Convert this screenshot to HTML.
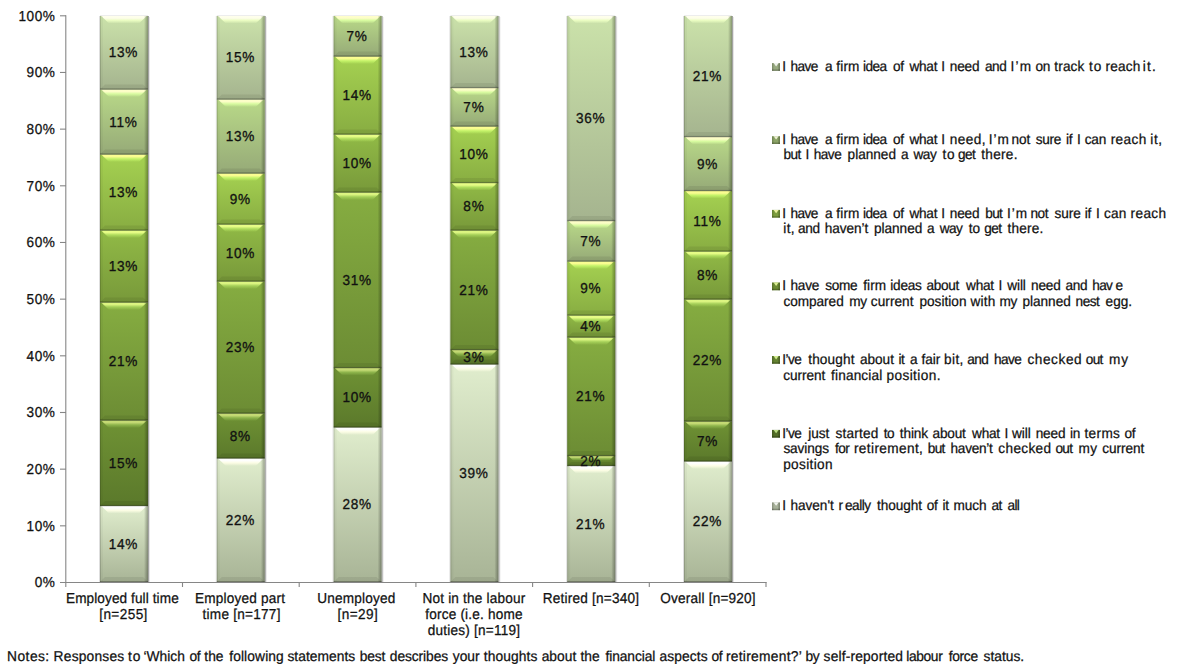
<!DOCTYPE html>
<html lang="en"><head><meta charset="utf-8"><title>Retirement planning by labour force status</title>
<style>html,body{margin:0;padding:0;background:#fff}body{width:1180px;height:669px;overflow:hidden}svg{display:block}text{font-family:"Liberation Sans",Arial,sans-serif;font-size:13.6px;letter-spacing:0.2px;fill:#111;text-rendering:geometricPrecision;stroke:#111;stroke-width:0.25px}.b{stroke-width:0.3px;letter-spacing:0.7px}.y{letter-spacing:0.5px}</style></head><body>
<svg width="1180" height="669" viewBox="0 0 1180 669">
<defs>
<linearGradient id="g0" x1="0" y1="0" x2="0" y2="1"><stop offset="0" stop-color="#e0edcd"/><stop offset="1" stop-color="#a8b496"/></linearGradient>
<linearGradient id="g1" x1="0" y1="0" x2="0" y2="1"><stop offset="0" stop-color="#6f9234"/><stop offset="1" stop-color="#5b792b"/></linearGradient>
<linearGradient id="g2" x1="0" y1="0" x2="0" y2="1"><stop offset="0" stop-color="#86ad41"/><stop offset="1" stop-color="#6c8c34"/></linearGradient>
<linearGradient id="g3" x1="0" y1="0" x2="0" y2="1"><stop offset="0" stop-color="#91ba46"/><stop offset="1" stop-color="#78993a"/></linearGradient>
<linearGradient id="g4" x1="0" y1="0" x2="0" y2="1"><stop offset="0" stop-color="#a5d151"/><stop offset="1" stop-color="#88ad42"/></linearGradient>
<linearGradient id="g5" x1="0" y1="0" x2="0" y2="1"><stop offset="0" stop-color="#b9d988"/><stop offset="1" stop-color="#96aa78"/></linearGradient>
<linearGradient id="g6" x1="0" y1="0" x2="0" y2="1"><stop offset="0" stop-color="#cbe2aa"/><stop offset="1" stop-color="#a5b48f"/></linearGradient>
<linearGradient id="h0" x1="0" y1="0" x2="0" y2="1"><stop offset="0" stop-color="#ffffff" stop-opacity="1"/><stop offset="0.3" stop-color="#ffffff" stop-opacity="0.95"/><stop offset="0.6" stop-color="#ffffe7" stop-opacity="0.9"/><stop offset="1" stop-color="#ffffe7" stop-opacity="0"/></linearGradient>
<linearGradient id="h1" x1="0" y1="0" x2="0" y2="1"><stop offset="0" stop-color="#c7dc76" stop-opacity="1"/><stop offset="0.3" stop-color="#c7dc76" stop-opacity="0.95"/><stop offset="0.6" stop-color="#91b84e" stop-opacity="0.9"/><stop offset="1" stop-color="#91b84e" stop-opacity="0"/></linearGradient>
<linearGradient id="h2" x1="0" y1="0" x2="0" y2="1"><stop offset="0" stop-color="#def783" stop-opacity="1"/><stop offset="0.3" stop-color="#def783" stop-opacity="0.95"/><stop offset="0.6" stop-color="#a8d35b" stop-opacity="0.9"/><stop offset="1" stop-color="#a8d35b" stop-opacity="0"/></linearGradient>
<linearGradient id="h3" x1="0" y1="0" x2="0" y2="1"><stop offset="0" stop-color="#e9ff88" stop-opacity="1"/><stop offset="0.3" stop-color="#e9ff88" stop-opacity="0.95"/><stop offset="0.6" stop-color="#b3e060" stop-opacity="0.9"/><stop offset="1" stop-color="#b3e060" stop-opacity="0"/></linearGradient>
<linearGradient id="h4" x1="0" y1="0" x2="0" y2="1"><stop offset="0" stop-color="#fdff93" stop-opacity="1"/><stop offset="0.3" stop-color="#fdff93" stop-opacity="0.95"/><stop offset="0.6" stop-color="#c7f76b" stop-opacity="0.9"/><stop offset="1" stop-color="#c7f76b" stop-opacity="0"/></linearGradient>
<linearGradient id="h5" x1="0" y1="0" x2="0" y2="1"><stop offset="0" stop-color="#ffffca" stop-opacity="1"/><stop offset="0.3" stop-color="#ffffca" stop-opacity="0.95"/><stop offset="0.6" stop-color="#dbffa2" stop-opacity="0.9"/><stop offset="1" stop-color="#dbffa2" stop-opacity="0"/></linearGradient>
<linearGradient id="h6" x1="0" y1="0" x2="0" y2="1"><stop offset="0" stop-color="#ffffec" stop-opacity="1"/><stop offset="0.3" stop-color="#ffffec" stop-opacity="0.95"/><stop offset="0.6" stop-color="#edffc4" stop-opacity="0.9"/><stop offset="1" stop-color="#edffc4" stop-opacity="0"/></linearGradient>
<linearGradient id="rs" x1="0" y1="0" x2="1" y2="0"><stop offset="0" stop-color="#000" stop-opacity="0"/><stop offset="1" stop-color="#000" stop-opacity="0.33"/></linearGradient>
</defs>
<rect width="1180" height="669" fill="#fff"/>
<rect x="99.0" y="16" width="1" height="566" fill="#000" opacity="0.13"/>
<rect x="148.0" y="16" width="1" height="566" fill="#000" opacity="0.36"/>
<rect x="149.0" y="17" width="1" height="565" fill="#000" opacity="0.10"/>
<rect x="100.0" y="15" width="48" height="1" fill="#000" opacity="0.07"/>
<rect x="100.0" y="505.9" width="48" height="76.10000000000002" fill="url(#g0)"/>
<polygon points="101.2,505.9 146.8,505.9 138.9,513.4 109.1,513.4" fill="url(#h0)"/>
<polygon points="100.0,582 148.0,582 143.0,577 105.0,577" fill="#000" opacity="0.07"/>
<rect x="144.0" y="505.9" width="4" height="76.10000000000002" fill="url(#rs)"/>
<rect x="100.0" y="505.9" width="1" height="76.10000000000002" fill="#000" opacity="0.17"/>
<rect x="101.0" y="505.9" width="2" height="76.10000000000002" fill="#000" opacity="0.03"/>
<rect x="100.0" y="581" width="48" height="1.5" fill="#000" opacity="0.27"/>
<rect x="100.0" y="420.4" width="48" height="85.5" fill="url(#g1)"/>
<polygon points="101.2,420.4 146.8,420.4 138.9,427.9 109.1,427.9" fill="url(#h1)"/>
<polygon points="100.0,505.9 148.0,505.9 143.0,500.9 105.0,500.9" fill="#000" opacity="0.07"/>
<rect x="144.0" y="420.4" width="4" height="85.5" fill="url(#rs)"/>
<rect x="100.0" y="420.4" width="1" height="85.5" fill="#000" opacity="0.17"/>
<rect x="101.0" y="420.4" width="2" height="85.5" fill="#000" opacity="0.03"/>
<rect x="100.0" y="504.9" width="48" height="1.5" fill="#000" opacity="0.27"/>
<rect x="100.0" y="302.4" width="48" height="118.0" fill="url(#g2)"/>
<polygon points="101.2,302.4 146.8,302.4 138.9,309.9 109.1,309.9" fill="url(#h2)"/>
<polygon points="100.0,420.4 148.0,420.4 143.0,415.4 105.0,415.4" fill="#000" opacity="0.07"/>
<rect x="144.0" y="302.4" width="4" height="118.0" fill="url(#rs)"/>
<rect x="100.0" y="302.4" width="1" height="118.0" fill="#000" opacity="0.17"/>
<rect x="101.0" y="302.4" width="2" height="118.0" fill="#000" opacity="0.03"/>
<rect x="100.0" y="419.4" width="48" height="1.5" fill="#000" opacity="0.27"/>
<rect x="100.0" y="230.4" width="48" height="71.99999999999997" fill="url(#g3)"/>
<polygon points="101.2,230.4 146.8,230.4 138.9,237.9 109.1,237.9" fill="url(#h3)"/>
<polygon points="100.0,302.4 148.0,302.4 143.0,297.4 105.0,297.4" fill="#000" opacity="0.07"/>
<rect x="144.0" y="230.4" width="4" height="71.99999999999997" fill="url(#rs)"/>
<rect x="100.0" y="230.4" width="1" height="71.99999999999997" fill="#000" opacity="0.17"/>
<rect x="101.0" y="230.4" width="2" height="71.99999999999997" fill="#000" opacity="0.03"/>
<rect x="100.0" y="301.4" width="48" height="1.5" fill="#000" opacity="0.27"/>
<rect x="100.0" y="154.4" width="48" height="76.0" fill="url(#g4)"/>
<polygon points="101.2,154.4 146.8,154.4 138.9,161.9 109.1,161.9" fill="url(#h4)"/>
<polygon points="100.0,230.4 148.0,230.4 143.0,225.4 105.0,225.4" fill="#000" opacity="0.07"/>
<rect x="144.0" y="154.4" width="4" height="76.0" fill="url(#rs)"/>
<rect x="100.0" y="154.4" width="1" height="76.0" fill="#000" opacity="0.17"/>
<rect x="101.0" y="154.4" width="2" height="76.0" fill="#000" opacity="0.03"/>
<rect x="100.0" y="229.4" width="48" height="1.5" fill="#000" opacity="0.27"/>
<rect x="100.0" y="89.4" width="48" height="65.0" fill="url(#g5)"/>
<polygon points="101.2,89.4 146.8,89.4 138.9,96.9 109.1,96.9" fill="url(#h5)"/>
<polygon points="100.0,154.4 148.0,154.4 143.0,149.4 105.0,149.4" fill="#000" opacity="0.07"/>
<rect x="144.0" y="89.4" width="4" height="65.0" fill="url(#rs)"/>
<rect x="100.0" y="89.4" width="1" height="65.0" fill="#000" opacity="0.17"/>
<rect x="101.0" y="89.4" width="2" height="65.0" fill="#000" opacity="0.03"/>
<rect x="100.0" y="153.4" width="48" height="1.5" fill="#000" opacity="0.27"/>
<rect x="100.0" y="16" width="48" height="73.4" fill="url(#g6)"/>
<polygon points="101.2,16 146.8,16 138.9,23.5 109.1,23.5" fill="url(#h6)"/>
<polygon points="100.0,89.4 148.0,89.4 143.0,84.4 105.0,84.4" fill="#000" opacity="0.07"/>
<rect x="144.0" y="16" width="4" height="73.4" fill="url(#rs)"/>
<rect x="100.0" y="16" width="1" height="73.4" fill="#000" opacity="0.17"/>
<rect x="101.0" y="16" width="2" height="73.4" fill="#000" opacity="0.03"/>
<rect x="100.0" y="88.4" width="48" height="1.5" fill="#000" opacity="0.27"/>
<text transform="translate(123.5 548.6) scale(1 1.06)" text-anchor="middle" class="b">14%</text>
<text transform="translate(123.5 467.8) scale(1 1.06)" text-anchor="middle" class="b">15%</text>
<text transform="translate(123.5 366.0) scale(1 1.06)" text-anchor="middle" class="b">21%</text>
<text transform="translate(123.5 271.0) scale(1 1.06)" text-anchor="middle" class="b">13%</text>
<text transform="translate(123.5 197.0) scale(1 1.06)" text-anchor="middle" class="b">13%</text>
<text transform="translate(123.5 126.5) scale(1 1.06)" text-anchor="middle" class="b">11%</text>
<text transform="translate(123.5 57.3) scale(1 1.06)" text-anchor="middle" class="b">13%</text>
<rect x="215.8" y="16" width="1" height="566" fill="#000" opacity="0.13"/>
<rect x="264.8" y="16" width="1" height="566" fill="#000" opacity="0.36"/>
<rect x="265.8" y="17" width="1" height="565" fill="#000" opacity="0.10"/>
<rect x="216.8" y="15" width="48" height="1" fill="#000" opacity="0.07"/>
<rect x="216.8" y="458.4" width="48" height="123.60000000000002" fill="url(#g0)"/>
<polygon points="218.0,458.4 263.6,458.4 255.7,465.9 225.9,465.9" fill="url(#h0)"/>
<polygon points="216.8,582 264.8,582 259.8,577 221.8,577" fill="#000" opacity="0.07"/>
<rect x="260.8" y="458.4" width="4" height="123.60000000000002" fill="url(#rs)"/>
<rect x="216.8" y="458.4" width="1" height="123.60000000000002" fill="#000" opacity="0.17"/>
<rect x="217.8" y="458.4" width="2" height="123.60000000000002" fill="#000" opacity="0.03"/>
<rect x="216.8" y="581" width="48" height="1.5" fill="#000" opacity="0.27"/>
<rect x="216.8" y="413.4" width="48" height="45.0" fill="url(#g1)"/>
<polygon points="218.0,413.4 263.6,413.4 255.7,420.9 225.9,420.9" fill="url(#h1)"/>
<polygon points="216.8,458.4 264.8,458.4 259.8,453.4 221.8,453.4" fill="#000" opacity="0.07"/>
<rect x="260.8" y="413.4" width="4" height="45.0" fill="url(#rs)"/>
<rect x="216.8" y="413.4" width="1" height="45.0" fill="#000" opacity="0.17"/>
<rect x="217.8" y="413.4" width="2" height="45.0" fill="#000" opacity="0.03"/>
<rect x="216.8" y="457.4" width="48" height="1.5" fill="#000" opacity="0.27"/>
<rect x="216.8" y="281.4" width="48" height="132.0" fill="url(#g2)"/>
<polygon points="218.0,281.4 263.6,281.4 255.7,288.9 225.9,288.9" fill="url(#h2)"/>
<polygon points="216.8,413.4 264.8,413.4 259.8,408.4 221.8,408.4" fill="#000" opacity="0.07"/>
<rect x="260.8" y="281.4" width="4" height="132.0" fill="url(#rs)"/>
<rect x="216.8" y="281.4" width="1" height="132.0" fill="#000" opacity="0.17"/>
<rect x="217.8" y="281.4" width="2" height="132.0" fill="#000" opacity="0.03"/>
<rect x="216.8" y="412.4" width="48" height="1.5" fill="#000" opacity="0.27"/>
<rect x="216.8" y="224.4" width="48" height="56.99999999999997" fill="url(#g3)"/>
<polygon points="218.0,224.4 263.6,224.4 255.7,231.9 225.9,231.9" fill="url(#h3)"/>
<polygon points="216.8,281.4 264.8,281.4 259.8,276.4 221.8,276.4" fill="#000" opacity="0.07"/>
<rect x="260.8" y="224.4" width="4" height="56.99999999999997" fill="url(#rs)"/>
<rect x="216.8" y="224.4" width="1" height="56.99999999999997" fill="#000" opacity="0.17"/>
<rect x="217.8" y="224.4" width="2" height="56.99999999999997" fill="#000" opacity="0.03"/>
<rect x="216.8" y="280.4" width="48" height="1.5" fill="#000" opacity="0.27"/>
<rect x="216.8" y="173.4" width="48" height="51.0" fill="url(#g4)"/>
<polygon points="218.0,173.4 263.6,173.4 255.7,180.9 225.9,180.9" fill="url(#h4)"/>
<polygon points="216.8,224.4 264.8,224.4 259.8,219.4 221.8,219.4" fill="#000" opacity="0.07"/>
<rect x="260.8" y="173.4" width="4" height="51.0" fill="url(#rs)"/>
<rect x="216.8" y="173.4" width="1" height="51.0" fill="#000" opacity="0.17"/>
<rect x="217.8" y="173.4" width="2" height="51.0" fill="#000" opacity="0.03"/>
<rect x="216.8" y="223.4" width="48" height="1.5" fill="#000" opacity="0.27"/>
<rect x="216.8" y="99.4" width="48" height="74.0" fill="url(#g5)"/>
<polygon points="218.0,99.4 263.6,99.4 255.7,106.9 225.9,106.9" fill="url(#h5)"/>
<polygon points="216.8,173.4 264.8,173.4 259.8,168.4 221.8,168.4" fill="#000" opacity="0.07"/>
<rect x="260.8" y="99.4" width="4" height="74.0" fill="url(#rs)"/>
<rect x="216.8" y="99.4" width="1" height="74.0" fill="#000" opacity="0.17"/>
<rect x="217.8" y="99.4" width="2" height="74.0" fill="#000" opacity="0.03"/>
<rect x="216.8" y="172.4" width="48" height="1.5" fill="#000" opacity="0.27"/>
<rect x="216.8" y="16" width="48" height="83.4" fill="url(#g6)"/>
<polygon points="218.0,16 263.6,16 255.7,23.5 225.9,23.5" fill="url(#h6)"/>
<polygon points="216.8,99.4 264.8,99.4 259.8,94.4 221.8,94.4" fill="#000" opacity="0.07"/>
<rect x="260.8" y="16" width="4" height="83.4" fill="url(#rs)"/>
<rect x="216.8" y="16" width="1" height="83.4" fill="#000" opacity="0.17"/>
<rect x="217.8" y="16" width="2" height="83.4" fill="#000" opacity="0.03"/>
<rect x="216.8" y="98.4" width="48" height="1.5" fill="#000" opacity="0.27"/>
<text transform="translate(240.3 524.8) scale(1 1.06)" text-anchor="middle" class="b">22%</text>
<text transform="translate(240.3 440.5) scale(1 1.06)" text-anchor="middle" class="b">8%</text>
<text transform="translate(240.3 352.0) scale(1 1.06)" text-anchor="middle" class="b">23%</text>
<text transform="translate(240.3 257.5) scale(1 1.06)" text-anchor="middle" class="b">10%</text>
<text transform="translate(240.3 203.5) scale(1 1.06)" text-anchor="middle" class="b">9%</text>
<text transform="translate(240.3 141.0) scale(1 1.06)" text-anchor="middle" class="b">13%</text>
<text transform="translate(240.3 62.3) scale(1 1.06)" text-anchor="middle" class="b">15%</text>
<rect x="332.6" y="16" width="1" height="566" fill="#000" opacity="0.13"/>
<rect x="381.6" y="16" width="1" height="566" fill="#000" opacity="0.36"/>
<rect x="382.6" y="17" width="1" height="565" fill="#000" opacity="0.10"/>
<rect x="333.6" y="15" width="48" height="1" fill="#000" opacity="0.07"/>
<rect x="333.6" y="427.4" width="48" height="154.60000000000002" fill="url(#g0)"/>
<polygon points="334.8,427.4 380.40000000000003,427.4 372.5,434.9 342.7,434.9" fill="url(#h0)"/>
<polygon points="333.6,582 381.6,582 376.6,577 338.6,577" fill="#000" opacity="0.07"/>
<rect x="377.6" y="427.4" width="4" height="154.60000000000002" fill="url(#rs)"/>
<rect x="333.6" y="427.4" width="1" height="154.60000000000002" fill="#000" opacity="0.17"/>
<rect x="334.6" y="427.4" width="2" height="154.60000000000002" fill="#000" opacity="0.03"/>
<rect x="333.6" y="581" width="48" height="1.5" fill="#000" opacity="0.27"/>
<rect x="333.6" y="367.9" width="48" height="59.5" fill="url(#g1)"/>
<polygon points="334.8,367.9 380.40000000000003,367.9 372.5,375.4 342.7,375.4" fill="url(#h1)"/>
<polygon points="333.6,427.4 381.6,427.4 376.6,422.4 338.6,422.4" fill="#000" opacity="0.07"/>
<rect x="377.6" y="367.9" width="4" height="59.5" fill="url(#rs)"/>
<rect x="333.6" y="367.9" width="1" height="59.5" fill="#000" opacity="0.17"/>
<rect x="334.6" y="367.9" width="2" height="59.5" fill="#000" opacity="0.03"/>
<rect x="333.6" y="426.4" width="48" height="1.5" fill="#000" opacity="0.27"/>
<rect x="333.6" y="192.4" width="48" height="175.49999999999997" fill="url(#g2)"/>
<polygon points="334.8,192.4 380.40000000000003,192.4 372.5,199.9 342.7,199.9" fill="url(#h2)"/>
<polygon points="333.6,367.9 381.6,367.9 376.6,362.9 338.6,362.9" fill="#000" opacity="0.07"/>
<rect x="377.6" y="192.4" width="4" height="175.49999999999997" fill="url(#rs)"/>
<rect x="333.6" y="192.4" width="1" height="175.49999999999997" fill="#000" opacity="0.17"/>
<rect x="334.6" y="192.4" width="2" height="175.49999999999997" fill="#000" opacity="0.03"/>
<rect x="333.6" y="366.9" width="48" height="1.5" fill="#000" opacity="0.27"/>
<rect x="333.6" y="134.4" width="48" height="58.0" fill="url(#g3)"/>
<polygon points="334.8,134.4 380.40000000000003,134.4 372.5,141.9 342.7,141.9" fill="url(#h3)"/>
<polygon points="333.6,192.4 381.6,192.4 376.6,187.4 338.6,187.4" fill="#000" opacity="0.07"/>
<rect x="377.6" y="134.4" width="4" height="58.0" fill="url(#rs)"/>
<rect x="333.6" y="134.4" width="1" height="58.0" fill="#000" opacity="0.17"/>
<rect x="334.6" y="134.4" width="2" height="58.0" fill="#000" opacity="0.03"/>
<rect x="333.6" y="191.4" width="48" height="1.5" fill="#000" opacity="0.27"/>
<rect x="333.6" y="56.4" width="48" height="78.0" fill="url(#g4)"/>
<polygon points="334.8,56.4 380.40000000000003,56.4 372.5,63.9 342.7,63.9" fill="url(#h4)"/>
<polygon points="333.6,134.4 381.6,134.4 376.6,129.4 338.6,129.4" fill="#000" opacity="0.07"/>
<rect x="377.6" y="56.4" width="4" height="78.0" fill="url(#rs)"/>
<rect x="333.6" y="56.4" width="1" height="78.0" fill="#000" opacity="0.17"/>
<rect x="334.6" y="56.4" width="2" height="78.0" fill="#000" opacity="0.03"/>
<rect x="333.6" y="133.4" width="48" height="1.5" fill="#000" opacity="0.27"/>
<rect x="333.6" y="16" width="48" height="40.4" fill="url(#g5)"/>
<polygon points="334.8,16 380.40000000000003,16 372.5,23.5 342.7,23.5" fill="url(#h5)"/>
<polygon points="333.6,56.4 381.6,56.4 376.6,51.4 338.6,51.4" fill="#000" opacity="0.07"/>
<rect x="377.6" y="16" width="4" height="40.4" fill="url(#rs)"/>
<rect x="333.6" y="16" width="1" height="40.4" fill="#000" opacity="0.17"/>
<rect x="334.6" y="16" width="2" height="40.4" fill="#000" opacity="0.03"/>
<rect x="333.6" y="55.4" width="48" height="1.5" fill="#000" opacity="0.27"/>
<text transform="translate(357.1 509.3) scale(1 1.06)" text-anchor="middle" class="b">28%</text>
<text transform="translate(357.1 402.2) scale(1 1.06)" text-anchor="middle" class="b">10%</text>
<text transform="translate(357.1 284.8) scale(1 1.06)" text-anchor="middle" class="b">31%</text>
<text transform="translate(357.1 168.0) scale(1 1.06)" text-anchor="middle" class="b">10%</text>
<text transform="translate(357.1 100.0) scale(1 1.06)" text-anchor="middle" class="b">14%</text>
<text transform="translate(357.1 40.8) scale(1 1.06)" text-anchor="middle" class="b">7%</text>
<rect x="449.4" y="16" width="1" height="566" fill="#000" opacity="0.13"/>
<rect x="498.4" y="16" width="1" height="566" fill="#000" opacity="0.36"/>
<rect x="499.4" y="17" width="1" height="565" fill="#000" opacity="0.10"/>
<rect x="450.4" y="15" width="48" height="1" fill="#000" opacity="0.07"/>
<rect x="450.4" y="364.4" width="48" height="217.60000000000002" fill="url(#g0)"/>
<polygon points="451.59999999999997,364.4 497.2,364.4 489.3,371.9 459.5,371.9" fill="url(#h0)"/>
<polygon points="450.4,582 498.4,582 493.4,577 455.4,577" fill="#000" opacity="0.07"/>
<rect x="494.4" y="364.4" width="4" height="217.60000000000002" fill="url(#rs)"/>
<rect x="450.4" y="364.4" width="1" height="217.60000000000002" fill="#000" opacity="0.17"/>
<rect x="451.4" y="364.4" width="2" height="217.60000000000002" fill="#000" opacity="0.03"/>
<rect x="450.4" y="581" width="48" height="1.5" fill="#000" opacity="0.27"/>
<rect x="450.4" y="349.9" width="48" height="14.5" fill="url(#g1)"/>
<polygon points="451.59999999999997,349.9 497.2,349.9 489.9,356.9 458.9,356.9" fill="url(#h1)"/>
<polygon points="450.4,364.4 498.4,364.4 493.4,359.4 455.4,359.4" fill="#000" opacity="0.07"/>
<rect x="494.4" y="349.9" width="4" height="14.5" fill="url(#rs)"/>
<rect x="450.4" y="349.9" width="1" height="14.5" fill="#000" opacity="0.17"/>
<rect x="451.4" y="349.9" width="2" height="14.5" fill="#000" opacity="0.03"/>
<rect x="450.4" y="363.4" width="48" height="1.5" fill="#000" opacity="0.27"/>
<rect x="450.4" y="230.4" width="48" height="119.49999999999997" fill="url(#g2)"/>
<polygon points="451.59999999999997,230.4 497.2,230.4 489.3,237.9 459.5,237.9" fill="url(#h2)"/>
<polygon points="450.4,349.9 498.4,349.9 493.4,344.9 455.4,344.9" fill="#000" opacity="0.07"/>
<rect x="494.4" y="230.4" width="4" height="119.49999999999997" fill="url(#rs)"/>
<rect x="450.4" y="230.4" width="1" height="119.49999999999997" fill="#000" opacity="0.17"/>
<rect x="451.4" y="230.4" width="2" height="119.49999999999997" fill="#000" opacity="0.03"/>
<rect x="450.4" y="348.9" width="48" height="1.5" fill="#000" opacity="0.27"/>
<rect x="450.4" y="182.9" width="48" height="47.5" fill="url(#g3)"/>
<polygon points="451.59999999999997,182.9 497.2,182.9 489.3,190.4 459.5,190.4" fill="url(#h3)"/>
<polygon points="450.4,230.4 498.4,230.4 493.4,225.4 455.4,225.4" fill="#000" opacity="0.07"/>
<rect x="494.4" y="182.9" width="4" height="47.5" fill="url(#rs)"/>
<rect x="450.4" y="182.9" width="1" height="47.5" fill="#000" opacity="0.17"/>
<rect x="451.4" y="182.9" width="2" height="47.5" fill="#000" opacity="0.03"/>
<rect x="450.4" y="229.4" width="48" height="1.5" fill="#000" opacity="0.27"/>
<rect x="450.4" y="126.4" width="48" height="56.5" fill="url(#g4)"/>
<polygon points="451.59999999999997,126.4 497.2,126.4 489.3,133.9 459.5,133.9" fill="url(#h4)"/>
<polygon points="450.4,182.9 498.4,182.9 493.4,177.9 455.4,177.9" fill="#000" opacity="0.07"/>
<rect x="494.4" y="126.4" width="4" height="56.5" fill="url(#rs)"/>
<rect x="450.4" y="126.4" width="1" height="56.5" fill="#000" opacity="0.17"/>
<rect x="451.4" y="126.4" width="2" height="56.5" fill="#000" opacity="0.03"/>
<rect x="450.4" y="181.9" width="48" height="1.5" fill="#000" opacity="0.27"/>
<rect x="450.4" y="87.9" width="48" height="38.5" fill="url(#g5)"/>
<polygon points="451.59999999999997,87.9 497.2,87.9 489.3,95.4 459.5,95.4" fill="url(#h5)"/>
<polygon points="450.4,126.4 498.4,126.4 493.4,121.4 455.4,121.4" fill="#000" opacity="0.07"/>
<rect x="494.4" y="87.9" width="4" height="38.5" fill="url(#rs)"/>
<rect x="450.4" y="87.9" width="1" height="38.5" fill="#000" opacity="0.17"/>
<rect x="451.4" y="87.9" width="2" height="38.5" fill="#000" opacity="0.03"/>
<rect x="450.4" y="125.4" width="48" height="1.5" fill="#000" opacity="0.27"/>
<rect x="450.4" y="16" width="48" height="71.9" fill="url(#g6)"/>
<polygon points="451.59999999999997,16 497.2,16 489.3,23.5 459.5,23.5" fill="url(#h6)"/>
<polygon points="450.4,87.9 498.4,87.9 493.4,82.9 455.4,82.9" fill="#000" opacity="0.07"/>
<rect x="494.4" y="16" width="4" height="71.9" fill="url(#rs)"/>
<rect x="450.4" y="16" width="1" height="71.9" fill="#000" opacity="0.17"/>
<rect x="451.4" y="16" width="2" height="71.9" fill="#000" opacity="0.03"/>
<rect x="450.4" y="86.9" width="48" height="1.5" fill="#000" opacity="0.27"/>
<text transform="translate(473.9 477.8) scale(1 1.06)" text-anchor="middle" class="b">39%</text>
<text transform="translate(473.9 361.8) scale(1 1.06)" text-anchor="middle" class="b">3%</text>
<text transform="translate(473.9 294.8) scale(1 1.06)" text-anchor="middle" class="b">21%</text>
<text transform="translate(473.9 211.2) scale(1 1.06)" text-anchor="middle" class="b">8%</text>
<text transform="translate(473.9 159.2) scale(1 1.06)" text-anchor="middle" class="b">10%</text>
<text transform="translate(473.9 111.8) scale(1 1.06)" text-anchor="middle" class="b">7%</text>
<text transform="translate(473.9 56.6) scale(1 1.06)" text-anchor="middle" class="b">13%</text>
<rect x="566.2" y="16" width="1" height="566" fill="#000" opacity="0.13"/>
<rect x="615.2" y="16" width="1" height="566" fill="#000" opacity="0.36"/>
<rect x="616.2" y="17" width="1" height="565" fill="#000" opacity="0.10"/>
<rect x="567.2" y="15" width="48" height="1" fill="#000" opacity="0.07"/>
<rect x="567.2" y="465.9" width="48" height="116.10000000000002" fill="url(#g0)"/>
<polygon points="568.4000000000001,465.9 614.0,465.9 606.1,473.4 576.3,473.4" fill="url(#h0)"/>
<polygon points="567.2,582 615.2,582 610.2,577 572.2,577" fill="#000" opacity="0.07"/>
<rect x="611.2" y="465.9" width="4" height="116.10000000000002" fill="url(#rs)"/>
<rect x="567.2" y="465.9" width="1" height="116.10000000000002" fill="#000" opacity="0.17"/>
<rect x="568.2" y="465.9" width="2" height="116.10000000000002" fill="#000" opacity="0.03"/>
<rect x="567.2" y="581" width="48" height="1.5" fill="#000" opacity="0.27"/>
<rect x="567.2" y="455.9" width="48" height="10.0" fill="url(#g1)"/>
<polygon points="568.4000000000001,455.9 614.0,455.9 609.0,460.7 573.4,460.7" fill="url(#h1)"/>
<polygon points="567.2,465.9 615.2,465.9 611.2,461.9 571.2,461.9" fill="#000" opacity="0.07"/>
<rect x="611.2" y="455.9" width="4" height="10.0" fill="url(#rs)"/>
<rect x="567.2" y="455.9" width="1" height="10.0" fill="#000" opacity="0.17"/>
<rect x="568.2" y="455.9" width="2" height="10.0" fill="#000" opacity="0.03"/>
<rect x="567.2" y="464.9" width="48" height="1.5" fill="#000" opacity="0.27"/>
<rect x="567.2" y="337.4" width="48" height="118.5" fill="url(#g2)"/>
<polygon points="568.4000000000001,337.4 614.0,337.4 606.1,344.9 576.3,344.9" fill="url(#h2)"/>
<polygon points="567.2,455.9 615.2,455.9 610.2,450.9 572.2,450.9" fill="#000" opacity="0.07"/>
<rect x="611.2" y="337.4" width="4" height="118.5" fill="url(#rs)"/>
<rect x="567.2" y="337.4" width="1" height="118.5" fill="#000" opacity="0.17"/>
<rect x="568.2" y="337.4" width="2" height="118.5" fill="#000" opacity="0.03"/>
<rect x="567.2" y="454.9" width="48" height="1.5" fill="#000" opacity="0.27"/>
<rect x="567.2" y="315.4" width="48" height="22.0" fill="url(#g3)"/>
<polygon points="568.4000000000001,315.4 614.0,315.4 606.1,322.9 576.3,322.9" fill="url(#h3)"/>
<polygon points="567.2,337.4 615.2,337.4 610.2,332.4 572.2,332.4" fill="#000" opacity="0.07"/>
<rect x="611.2" y="315.4" width="4" height="22.0" fill="url(#rs)"/>
<rect x="567.2" y="315.4" width="1" height="22.0" fill="#000" opacity="0.17"/>
<rect x="568.2" y="315.4" width="2" height="22.0" fill="#000" opacity="0.03"/>
<rect x="567.2" y="336.4" width="48" height="1.5" fill="#000" opacity="0.27"/>
<rect x="567.2" y="261.4" width="48" height="54.0" fill="url(#g4)"/>
<polygon points="568.4000000000001,261.4 614.0,261.4 606.1,268.9 576.3,268.9" fill="url(#h4)"/>
<polygon points="567.2,315.4 615.2,315.4 610.2,310.4 572.2,310.4" fill="#000" opacity="0.07"/>
<rect x="611.2" y="261.4" width="4" height="54.0" fill="url(#rs)"/>
<rect x="567.2" y="261.4" width="1" height="54.0" fill="#000" opacity="0.17"/>
<rect x="568.2" y="261.4" width="2" height="54.0" fill="#000" opacity="0.03"/>
<rect x="567.2" y="314.4" width="48" height="1.5" fill="#000" opacity="0.27"/>
<rect x="567.2" y="220.9" width="48" height="40.49999999999997" fill="url(#g5)"/>
<polygon points="568.4000000000001,220.9 614.0,220.9 606.1,228.4 576.3,228.4" fill="url(#h5)"/>
<polygon points="567.2,261.4 615.2,261.4 610.2,256.4 572.2,256.4" fill="#000" opacity="0.07"/>
<rect x="611.2" y="220.9" width="4" height="40.49999999999997" fill="url(#rs)"/>
<rect x="567.2" y="220.9" width="1" height="40.49999999999997" fill="#000" opacity="0.17"/>
<rect x="568.2" y="220.9" width="2" height="40.49999999999997" fill="#000" opacity="0.03"/>
<rect x="567.2" y="260.4" width="48" height="1.5" fill="#000" opacity="0.27"/>
<rect x="567.2" y="16" width="48" height="204.9" fill="url(#g6)"/>
<polygon points="568.4000000000001,16 614.0,16 606.1,23.5 576.3,23.5" fill="url(#h6)"/>
<polygon points="567.2,220.9 615.2,220.9 610.2,215.9 572.2,215.9" fill="#000" opacity="0.07"/>
<rect x="611.2" y="16" width="4" height="204.9" fill="url(#rs)"/>
<rect x="567.2" y="16" width="1" height="204.9" fill="#000" opacity="0.17"/>
<rect x="568.2" y="16" width="2" height="204.9" fill="#000" opacity="0.03"/>
<rect x="567.2" y="219.9" width="48" height="1.5" fill="#000" opacity="0.27"/>
<text transform="translate(590.7 528.6) scale(1 1.06)" text-anchor="middle" class="b">21%</text>
<text transform="translate(590.7 465.5) scale(1 1.06)" text-anchor="middle" class="b">2%</text>
<text transform="translate(590.7 401.2) scale(1 1.06)" text-anchor="middle" class="b">21%</text>
<text transform="translate(590.7 331.0) scale(1 1.06)" text-anchor="middle" class="b">4%</text>
<text transform="translate(590.7 293.0) scale(1 1.06)" text-anchor="middle" class="b">9%</text>
<text transform="translate(590.7 245.7) scale(1 1.06)" text-anchor="middle" class="b">7%</text>
<text transform="translate(590.7 123.0) scale(1 1.06)" text-anchor="middle" class="b">36%</text>
<rect x="683.0" y="16" width="1" height="566" fill="#000" opacity="0.13"/>
<rect x="732.0" y="16" width="1" height="566" fill="#000" opacity="0.36"/>
<rect x="733.0" y="17" width="1" height="565" fill="#000" opacity="0.10"/>
<rect x="684.0" y="15" width="48" height="1" fill="#000" opacity="0.07"/>
<rect x="684.0" y="461.4" width="48" height="120.60000000000002" fill="url(#g0)"/>
<polygon points="685.2,461.4 730.8,461.4 722.9,468.9 693.1,468.9" fill="url(#h0)"/>
<polygon points="684.0,582 732.0,582 727.0,577 689.0,577" fill="#000" opacity="0.07"/>
<rect x="728.0" y="461.4" width="4" height="120.60000000000002" fill="url(#rs)"/>
<rect x="684.0" y="461.4" width="1" height="120.60000000000002" fill="#000" opacity="0.17"/>
<rect x="685.0" y="461.4" width="2" height="120.60000000000002" fill="#000" opacity="0.03"/>
<rect x="684.0" y="581" width="48" height="1.5" fill="#000" opacity="0.27"/>
<rect x="684.0" y="421.4" width="48" height="40.0" fill="url(#g1)"/>
<polygon points="685.2,421.4 730.8,421.4 722.9,428.9 693.1,428.9" fill="url(#h1)"/>
<polygon points="684.0,461.4 732.0,461.4 727.0,456.4 689.0,456.4" fill="#000" opacity="0.07"/>
<rect x="728.0" y="421.4" width="4" height="40.0" fill="url(#rs)"/>
<rect x="684.0" y="421.4" width="1" height="40.0" fill="#000" opacity="0.17"/>
<rect x="685.0" y="421.4" width="2" height="40.0" fill="#000" opacity="0.03"/>
<rect x="684.0" y="460.4" width="48" height="1.5" fill="#000" opacity="0.27"/>
<rect x="684.0" y="299.4" width="48" height="122.0" fill="url(#g2)"/>
<polygon points="685.2,299.4 730.8,299.4 722.9,306.9 693.1,306.9" fill="url(#h2)"/>
<polygon points="684.0,421.4 732.0,421.4 727.0,416.4 689.0,416.4" fill="#000" opacity="0.07"/>
<rect x="728.0" y="299.4" width="4" height="122.0" fill="url(#rs)"/>
<rect x="684.0" y="299.4" width="1" height="122.0" fill="#000" opacity="0.17"/>
<rect x="685.0" y="299.4" width="2" height="122.0" fill="#000" opacity="0.03"/>
<rect x="684.0" y="420.4" width="48" height="1.5" fill="#000" opacity="0.27"/>
<rect x="684.0" y="251.4" width="48" height="47.99999999999997" fill="url(#g3)"/>
<polygon points="685.2,251.4 730.8,251.4 722.9,258.9 693.1,258.9" fill="url(#h3)"/>
<polygon points="684.0,299.4 732.0,299.4 727.0,294.4 689.0,294.4" fill="#000" opacity="0.07"/>
<rect x="728.0" y="251.4" width="4" height="47.99999999999997" fill="url(#rs)"/>
<rect x="684.0" y="251.4" width="1" height="47.99999999999997" fill="#000" opacity="0.17"/>
<rect x="685.0" y="251.4" width="2" height="47.99999999999997" fill="#000" opacity="0.03"/>
<rect x="684.0" y="298.4" width="48" height="1.5" fill="#000" opacity="0.27"/>
<rect x="684.0" y="190.9" width="48" height="60.5" fill="url(#g4)"/>
<polygon points="685.2,190.9 730.8,190.9 722.9,198.4 693.1,198.4" fill="url(#h4)"/>
<polygon points="684.0,251.4 732.0,251.4 727.0,246.4 689.0,246.4" fill="#000" opacity="0.07"/>
<rect x="728.0" y="190.9" width="4" height="60.5" fill="url(#rs)"/>
<rect x="684.0" y="190.9" width="1" height="60.5" fill="#000" opacity="0.17"/>
<rect x="685.0" y="190.9" width="2" height="60.5" fill="#000" opacity="0.03"/>
<rect x="684.0" y="250.4" width="48" height="1.5" fill="#000" opacity="0.27"/>
<rect x="684.0" y="136.9" width="48" height="54.0" fill="url(#g5)"/>
<polygon points="685.2,136.9 730.8,136.9 722.9,144.4 693.1,144.4" fill="url(#h5)"/>
<polygon points="684.0,190.9 732.0,190.9 727.0,185.9 689.0,185.9" fill="#000" opacity="0.07"/>
<rect x="728.0" y="136.9" width="4" height="54.0" fill="url(#rs)"/>
<rect x="684.0" y="136.9" width="1" height="54.0" fill="#000" opacity="0.17"/>
<rect x="685.0" y="136.9" width="2" height="54.0" fill="#000" opacity="0.03"/>
<rect x="684.0" y="189.9" width="48" height="1.5" fill="#000" opacity="0.27"/>
<rect x="684.0" y="16" width="48" height="120.9" fill="url(#g6)"/>
<polygon points="685.2,16 730.8,16 722.9,23.5 693.1,23.5" fill="url(#h6)"/>
<polygon points="684.0,136.9 732.0,136.9 727.0,131.9 689.0,131.9" fill="#000" opacity="0.07"/>
<rect x="728.0" y="16" width="4" height="120.9" fill="url(#rs)"/>
<rect x="684.0" y="16" width="1" height="120.9" fill="#000" opacity="0.17"/>
<rect x="685.0" y="16" width="2" height="120.9" fill="#000" opacity="0.03"/>
<rect x="684.0" y="135.9" width="48" height="1.5" fill="#000" opacity="0.27"/>
<text transform="translate(707.5 526.3) scale(1 1.06)" text-anchor="middle" class="b">22%</text>
<text transform="translate(707.5 446.0) scale(1 1.06)" text-anchor="middle" class="b">7%</text>
<text transform="translate(707.5 365.0) scale(1 1.06)" text-anchor="middle" class="b">22%</text>
<text transform="translate(707.5 280.0) scale(1 1.06)" text-anchor="middle" class="b">8%</text>
<text transform="translate(707.5 225.8) scale(1 1.06)" text-anchor="middle" class="b">11%</text>
<text transform="translate(707.5 168.5) scale(1 1.06)" text-anchor="middle" class="b">9%</text>
<text transform="translate(707.5 81.0) scale(1 1.06)" text-anchor="middle" class="b">21%</text>
<g stroke="#868686" stroke-width="1.1">
<line x1="65.8" y1="15.3" x2="65.8" y2="583"/>
<line x1="60" y1="582.5" x2="766.5" y2="582.5"/>
<line x1="60" y1="525.83" x2="66" y2="525.83"/>
<line x1="60" y1="469.16" x2="66" y2="469.16"/>
<line x1="60" y1="412.49" x2="66" y2="412.49"/>
<line x1="60" y1="355.82" x2="66" y2="355.82"/>
<line x1="60" y1="299.15" x2="66" y2="299.15"/>
<line x1="60" y1="242.48" x2="66" y2="242.48"/>
<line x1="60" y1="185.81" x2="66" y2="185.81"/>
<line x1="60" y1="129.14" x2="66" y2="129.14"/>
<line x1="60" y1="72.47" x2="66" y2="72.47"/>
<line x1="60" y1="15.80" x2="66" y2="15.80"/>
<line x1="65.8" y1="582" x2="65.8" y2="587"/>
<line x1="182.5" y1="582" x2="182.5" y2="587"/>
<line x1="299.2" y1="582" x2="299.2" y2="587"/>
<line x1="415.9" y1="582" x2="415.9" y2="587"/>
<line x1="532.6" y1="582" x2="532.6" y2="587"/>
<line x1="649.3" y1="582" x2="649.3" y2="587"/>
<line x1="766.0" y1="582" x2="766.0" y2="587"/>
</g>
<text transform="translate(55.3 587.2) scale(1 1.06)" text-anchor="end" class="y">0%</text>
<text transform="translate(55.3 530.5) scale(1 1.06)" text-anchor="end" class="y">10%</text>
<text transform="translate(55.3 473.9) scale(1 1.06)" text-anchor="end" class="y">20%</text>
<text transform="translate(55.3 417.2) scale(1 1.06)" text-anchor="end" class="y">30%</text>
<text transform="translate(55.3 360.5) scale(1 1.06)" text-anchor="end" class="y">40%</text>
<text transform="translate(55.3 303.8) scale(1 1.06)" text-anchor="end" class="y">50%</text>
<text transform="translate(55.3 247.2) scale(1 1.06)" text-anchor="end" class="y">60%</text>
<text transform="translate(55.3 190.5) scale(1 1.06)" text-anchor="end" class="y">70%</text>
<text transform="translate(55.3 133.8) scale(1 1.06)" text-anchor="end" class="y">80%</text>
<text transform="translate(55.3 77.2) scale(1 1.06)" text-anchor="end" class="y">90%</text>
<text transform="translate(55.3 20.5) scale(1 1.06)" text-anchor="end" class="y">100%</text>
<text transform="translate(122.4 603.2) scale(1 1.06)" text-anchor="middle" style="letter-spacing:0.1px">Employed full time</text>
<text transform="translate(123.5 619.2) scale(1 1.06)" text-anchor="middle" style="letter-spacing:0.4px">[n=255]</text>
<text transform="translate(240.0 603.2) scale(1 1.06)" text-anchor="middle">Employed part</text>
<text transform="translate(241.6 619.2) scale(1 1.06)" text-anchor="middle" style="letter-spacing:0.25px">time [n=177]</text>
<text transform="translate(356.4 603.2) scale(1 1.06)" text-anchor="middle" style="letter-spacing:0.2px">Unemployed</text>
<text transform="translate(357.9 619.2) scale(1 1.06)" text-anchor="middle" style="letter-spacing:0.4px">[n=29]</text>
<text transform="translate(474.0 603.2) scale(1 1.06)" text-anchor="middle">Not in the labour</text>
<text transform="translate(474.0 619.2) scale(1 1.06)" text-anchor="middle">force (i.e. home</text>
<text transform="translate(474.0 635.2) scale(1 1.06)" text-anchor="middle">duties) [n=119]</text>
<text transform="translate(591.0 603.2) scale(1 1.06)" text-anchor="middle">Retired [n=340]</text>
<text transform="translate(708.0 603.2) scale(1 1.06)" text-anchor="middle">Overall [n=920]</text>
<rect x="772" y="63.1" width="8" height="7.8" fill="#98aa80"/>
<rect x="772" y="63.1" width="1.4" height="7.8" fill="#000" opacity="0.16"/>
<rect x="778.4" y="63.1" width="1.6" height="7.8" fill="#000" opacity="0.22"/>
<rect x="772" y="69.4" width="8" height="1.5" fill="#000" opacity="0.22"/>
<polygon points="773.6,63.1 778.6,63.1 776.1,66.5" fill="#ffffff" opacity="0.85"/>
<text transform="translate(0 70.9) scale(1 1.04)" style="font-size:13.6px;letter-spacing:0;font-kerning:none" xml:space="preserve"><tspan x="782.3">I</tspan> <tspan x="790.4" textLength="27.9" lengthAdjust="spacing">have</tspan> <tspan x="825.0">a</tspan> <tspan x="836.3" textLength="23.1" lengthAdjust="spacing">firm</tspan> <tspan x="863.0" textLength="24.1" lengthAdjust="spacing">idea</tspan> <tspan x="893.1" textLength="10.9" lengthAdjust="spacing">of</tspan> <tspan x="909.4" textLength="28.1" lengthAdjust="spacing">what</tspan> <tspan x="941.3">I</tspan> <tspan x="949.7" textLength="29.9" lengthAdjust="spacing">need</tspan> <tspan x="984.9" textLength="21.9" lengthAdjust="spacing">and</tspan> <tspan x="1010.5" textLength="20.5" lengthAdjust="spacing">I’m</tspan> <tspan x="1035.5" textLength="14.7" lengthAdjust="spacing">on</tspan> <tspan x="1054.2" textLength="30.2" lengthAdjust="spacing">track</tspan> <tspan x="1089.1" textLength="12.2" lengthAdjust="spacing">to</tspan> <tspan x="1105.6" textLength="34.6" lengthAdjust="spacing">reach</tspan> <tspan x="1142.8" textLength="13.0" lengthAdjust="spacing">it.</tspan></text>
<rect x="772" y="136.2" width="8" height="7.8" fill="#8ba366"/>
<rect x="772" y="136.2" width="1.4" height="7.8" fill="#000" opacity="0.16"/>
<rect x="778.4" y="136.2" width="1.6" height="7.8" fill="#000" opacity="0.22"/>
<rect x="772" y="142.5" width="8" height="1.5" fill="#000" opacity="0.22"/>
<polygon points="773.6,136.2 778.6,136.2 776.1,139.6" fill="#ffffe7" opacity="0.85"/>
<text transform="translate(0 144.0) scale(1 1.04)" style="font-size:13.6px;letter-spacing:0;font-kerning:none" xml:space="preserve"><tspan x="782.3">I</tspan> <tspan x="790.4" textLength="27.9" lengthAdjust="spacing">have</tspan> <tspan x="825.0">a</tspan> <tspan x="836.3" textLength="23.1" lengthAdjust="spacing">firm</tspan> <tspan x="863.0" textLength="24.1" lengthAdjust="spacing">idea</tspan> <tspan x="893.1" textLength="10.9" lengthAdjust="spacing">of</tspan> <tspan x="909.4" textLength="28.1" lengthAdjust="spacing">what</tspan> <tspan x="941.3">I</tspan> <tspan x="949.7" textLength="35.8" lengthAdjust="spacing">need,</tspan> <tspan x="988.8" textLength="20.1" lengthAdjust="spacing">I’m</tspan> <tspan x="1011.5">not</tspan> <tspan x="1035.7" textLength="25.6" lengthAdjust="spacing">sure</tspan> <tspan x="1066.1" textLength="6.4" lengthAdjust="spacing">if</tspan> <tspan x="1077.1">I</tspan> <tspan x="1084.7" textLength="21.5" lengthAdjust="spacing">can</tspan> <tspan x="1110.7" textLength="35.5" lengthAdjust="spacing">reach</tspan> <tspan x="1150.2" textLength="11.9" lengthAdjust="spacing">it,</tspan></text>
<text transform="translate(0 159.3) scale(1 1.04)" style="font-size:13.6px;letter-spacing:0;font-kerning:none" xml:space="preserve"><tspan x="783.5" textLength="17.7" lengthAdjust="spacing">but</tspan> <tspan x="805.6">I</tspan> <tspan x="813.8" textLength="27.9" lengthAdjust="spacing">have</tspan> <tspan x="847.6">planned</tspan> <tspan x="901.1">a</tspan> <tspan x="913.4" textLength="23.3" lengthAdjust="spacing">way</tspan> <tspan x="942.4" textLength="12.2" lengthAdjust="spacing">to</tspan> <tspan x="958.0" textLength="17.7" lengthAdjust="spacing">get</tspan> <tspan x="981.3" textLength="36.2" lengthAdjust="spacing">there.</tspan></text>
<rect x="772" y="209.9" width="8" height="7.8" fill="#7c9d3d"/>
<rect x="772" y="209.9" width="1.4" height="7.8" fill="#000" opacity="0.16"/>
<rect x="778.4" y="209.9" width="1.6" height="7.8" fill="#000" opacity="0.22"/>
<rect x="772" y="216.2" width="8" height="1.5" fill="#000" opacity="0.22"/>
<polygon points="773.6,209.9 778.6,209.9 776.1,213.3" fill="#ffffb0" opacity="0.85"/>
<text transform="translate(0 217.7) scale(1 1.04)" style="font-size:13.6px;letter-spacing:0;font-kerning:none" xml:space="preserve"><tspan x="782.3">I</tspan> <tspan x="790.4" textLength="27.9" lengthAdjust="spacing">have</tspan> <tspan x="825.0">a</tspan> <tspan x="836.3" textLength="23.1" lengthAdjust="spacing">firm</tspan> <tspan x="863.0" textLength="24.1" lengthAdjust="spacing">idea</tspan> <tspan x="893.1" textLength="10.9" lengthAdjust="spacing">of</tspan> <tspan x="909.4" textLength="28.1" lengthAdjust="spacing">what</tspan> <tspan x="941.3">I</tspan> <tspan x="949.7" textLength="29.9" lengthAdjust="spacing">need</tspan> <tspan x="985.2" textLength="17.7" lengthAdjust="spacing">but</tspan> <tspan x="1007.1" textLength="20.1" lengthAdjust="spacing">I’m</tspan> <tspan x="1030.4" textLength="18.2" lengthAdjust="spacing">not</tspan> <tspan x="1054.5" textLength="26.2" lengthAdjust="spacing">sure</tspan> <tspan x="1084.8" textLength="6.4" lengthAdjust="spacing">if</tspan> <tspan x="1095.9">I</tspan> <tspan x="1104.0" textLength="22.4" lengthAdjust="spacing">can</tspan> <tspan x="1130.6" textLength="35.4" lengthAdjust="spacing">reach</tspan></text>
<text transform="translate(0 233.2) scale(1 1.04)" style="font-size:13.6px;letter-spacing:0;font-kerning:none" xml:space="preserve"><tspan x="783.2" textLength="11.4" lengthAdjust="spacing">it,</tspan> <tspan x="798.1" textLength="21.9" lengthAdjust="spacing">and</tspan> <tspan x="824.7" textLength="43.5" lengthAdjust="spacing">haven’t</tspan> <tspan x="873.9">planned</tspan> <tspan x="927.1">a</tspan> <tspan x="939.7" textLength="23.0" lengthAdjust="spacing">way</tspan> <tspan x="968.7">to</tspan> <tspan x="984.3" textLength="17.7" lengthAdjust="spacing">get</tspan> <tspan x="1007.6" textLength="35.6" lengthAdjust="spacing">there.</tspan></text>
<rect x="772" y="282.5" width="8" height="7.8" fill="#6d8c34"/>
<rect x="772" y="282.5" width="1.4" height="7.8" fill="#000" opacity="0.16"/>
<rect x="778.4" y="282.5" width="1.6" height="7.8" fill="#000" opacity="0.22"/>
<rect x="772" y="288.8" width="8" height="1.5" fill="#000" opacity="0.22"/>
<polygon points="773.6,282.5 778.6,282.5 776.1,285.9" fill="#f0ffa5" opacity="0.85"/>
<text transform="translate(0 290.3) scale(1 1.04)" style="font-size:13.6px;letter-spacing:0;font-kerning:none" xml:space="preserve"><tspan x="782.3">I</tspan> <tspan x="790.4" textLength="29.0" lengthAdjust="spacing">have</tspan> <tspan x="825.2" textLength="32.4" lengthAdjust="spacing">some</tspan> <tspan x="863.2" textLength="23.0" lengthAdjust="spacing">firm</tspan> <tspan x="890.2" textLength="31.7" lengthAdjust="spacing">ideas</tspan> <tspan x="926.6" textLength="32.6" lengthAdjust="spacing">about</tspan> <tspan x="966.1" textLength="28.0" lengthAdjust="spacing">what</tspan> <tspan x="998.5">I</tspan> <tspan x="1007.3" textLength="18.6" lengthAdjust="spacing">will</tspan> <tspan x="1031.0" textLength="29.8" lengthAdjust="spacing">need</tspan> <tspan x="1065.6" textLength="21.9" lengthAdjust="spacing">and</tspan> <tspan x="1092.2" textLength="20.7" lengthAdjust="spacing">hav</tspan><tspan x="1115.4">e</tspan></text>
<text transform="translate(0 305.8) scale(1 1.04)" style="font-size:13.6px;letter-spacing:0;font-kerning:none" xml:space="preserve"><tspan x="783.5" textLength="60.2" lengthAdjust="spacing">compared</tspan> <tspan x="849.3" textLength="17.7" lengthAdjust="spacing">my</tspan> <tspan x="870.8" textLength="42.7" lengthAdjust="spacing">current</tspan> <tspan x="919.4" textLength="47.1" lengthAdjust="spacing">position</tspan> <tspan x="970.6" textLength="24.6" lengthAdjust="spacing">with</tspan> <tspan x="999.5" textLength="17.7" lengthAdjust="spacing">my</tspan> <tspan x="1022.4">planned</tspan> <tspan x="1075.6" textLength="24.2" lengthAdjust="spacing">nest</tspan> <tspan x="1105.6">egg.</tspan></text>
<rect x="772" y="356.0" width="8" height="7.8" fill="#648231"/>
<rect x="772" y="356.0" width="1.4" height="7.8" fill="#000" opacity="0.16"/>
<rect x="778.4" y="356.0" width="1.6" height="7.8" fill="#000" opacity="0.22"/>
<rect x="772" y="362.3" width="8" height="1.5" fill="#000" opacity="0.22"/>
<polygon points="773.6,356.0 778.6,356.0 776.1,359.4" fill="#e5ffa0" opacity="0.85"/>
<text transform="translate(0 363.8) scale(1 1.04)" style="font-size:13.6px;letter-spacing:0;font-kerning:none" xml:space="preserve"><tspan x="782.3" textLength="19.6" lengthAdjust="spacing">I’ve</tspan> <tspan x="808.2" textLength="46.3" lengthAdjust="spacing">thought</tspan> <tspan x="859.9">about</tspan> <tspan x="898.5" textLength="6.4" lengthAdjust="spacing">it</tspan> <tspan x="909.9">a</tspan> <tspan x="921.4">fair</tspan> <tspan x="944.1" textLength="19.2" lengthAdjust="spacing">bit,</tspan> <tspan x="967.3" textLength="21.5" lengthAdjust="spacing">and</tspan> <tspan x="993.9" textLength="27.9" lengthAdjust="spacing">have</tspan> <tspan x="1027.4" textLength="54.2" lengthAdjust="spacing">checked</tspan> <tspan x="1085.7" textLength="17.7" lengthAdjust="spacing">out</tspan> <tspan x="1108.9" textLength="19.1" lengthAdjust="spacing">my</tspan></text>
<text transform="translate(0 379.6) scale(1 1.04)" style="font-size:13.6px;letter-spacing:0;font-kerning:none" xml:space="preserve"><tspan x="783.2" textLength="42.0" lengthAdjust="spacing">current</tspan> <tspan x="831.1" textLength="51.1" lengthAdjust="spacing">financial</tspan> <tspan x="886.5" textLength="54.0" lengthAdjust="spacing">position.</tspan></text>
<rect x="772" y="429.9" width="8" height="7.8" fill="#536e27"/>
<rect x="772" y="429.9" width="1.4" height="7.8" fill="#000" opacity="0.16"/>
<rect x="778.4" y="429.9" width="1.6" height="7.8" fill="#000" opacity="0.22"/>
<rect x="772" y="436.2" width="8" height="1.5" fill="#000" opacity="0.22"/>
<polygon points="773.6,429.9 778.6,429.9 776.1,433.3" fill="#cef193" opacity="0.85"/>
<text transform="translate(0 437.7) scale(1 1.04)" style="font-size:13.6px;letter-spacing:0;font-kerning:none" xml:space="preserve"><tspan x="782.3" textLength="19.6" lengthAdjust="spacing">I’ve</tspan> <tspan x="808.3" textLength="20.9" lengthAdjust="spacing">just</tspan> <tspan x="835.5" textLength="42.7" lengthAdjust="spacing">started</tspan> <tspan x="883.7" textLength="10.9" lengthAdjust="spacing">to</tspan> <tspan x="899.8" textLength="28.3" lengthAdjust="spacing">think</tspan> <tspan x="932.6" textLength="33.2" lengthAdjust="spacing">about</tspan> <tspan x="972.1" textLength="28.0" lengthAdjust="spacing">what</tspan> <tspan x="1004.5">I</tspan> <tspan x="1012.1" textLength="18.6" lengthAdjust="spacing">will</tspan> <tspan x="1035.7" textLength="29.8" lengthAdjust="spacing">need</tspan> <tspan x="1070.0" textLength="10.2" lengthAdjust="spacing">in</tspan> <tspan x="1084.4" textLength="35.5" lengthAdjust="spacing">terms</tspan> <tspan x="1124.6" textLength="10.9" lengthAdjust="spacing">of</tspan></text>
<text transform="translate(0 453.3) scale(1 1.04)" style="font-size:13.6px;letter-spacing:0;font-kerning:none" xml:space="preserve"><tspan x="783.4" textLength="45.6" lengthAdjust="spacing">savings</tspan> <tspan x="835.1" textLength="14.7" lengthAdjust="spacing">for</tspan> <tspan x="853.9" textLength="69.0" lengthAdjust="spacing">retirement,</tspan> <tspan x="927.7" textLength="17.7" lengthAdjust="spacing">but</tspan> <tspan x="950.6" textLength="42.1" lengthAdjust="spacing">haven’t</tspan> <tspan x="998.3" textLength="52.8" lengthAdjust="spacing">checked</tspan> <tspan x="1055.4" textLength="17.7" lengthAdjust="spacing">out</tspan> <tspan x="1078.5" textLength="18.5" lengthAdjust="spacing">my</tspan> <tspan x="1102.3" textLength="42.0" lengthAdjust="spacing">current</tspan></text>
<text transform="translate(0 469.2) scale(1 1.04)" style="font-size:13.6px;letter-spacing:0;font-kerning:none" xml:space="preserve"><tspan x="783.2" textLength="49.4" lengthAdjust="spacing">position</tspan></text>
<rect x="772" y="502.4" width="8" height="7.8" fill="#a8b29a"/>
<rect x="772" y="502.4" width="1.4" height="7.8" fill="#000" opacity="0.16"/>
<rect x="778.4" y="502.4" width="1.6" height="7.8" fill="#000" opacity="0.22"/>
<rect x="772" y="508.7" width="8" height="1.5" fill="#000" opacity="0.22"/>
<polygon points="773.6,502.4 778.6,502.4 776.1,505.8" fill="#ffffff" opacity="0.85"/>
<text transform="translate(0 510.2) scale(1 1.04)" style="font-size:13.6px;letter-spacing:0;font-kerning:none" xml:space="preserve"><tspan x="782.3">I</tspan> <tspan x="790.4">haven't</tspan> <tspan x="838.4">r</tspan><tspan x="845.0" textLength="26.1" lengthAdjust="spacing">eally</tspan> <tspan x="876.9" textLength="45.1" lengthAdjust="spacing">thought</tspan> <tspan x="926.8" textLength="10.9" lengthAdjust="spacing">of</tspan> <tspan x="942.6" textLength="6.4" lengthAdjust="spacing">it</tspan> <tspan x="953.4">much</tspan> <tspan x="991.5" textLength="10.9" lengthAdjust="spacing">at</tspan> <tspan x="1007.5" textLength="12.4" lengthAdjust="spacing">all</tspan></text>
<text transform="translate(0 660.9) scale(1 1.03)" style="font-size:13.8px;letter-spacing:0;font-kerning:none" xml:space="preserve"><tspan x="7.1" textLength="42.1" lengthAdjust="spacing">Notes:</tspan> <tspan x="53.6" textLength="70.6" lengthAdjust="spacing">Responses</tspan> <tspan x="128.0" textLength="12.5" lengthAdjust="spacing">to</tspan> <tspan x="143.5">‘Which</tspan> <tspan x="189.6" textLength="11.1" lengthAdjust="spacing">of</tspan> <tspan x="204.3">the</tspan> <tspan x="229.2" textLength="54.6" lengthAdjust="spacing">following</tspan> <tspan x="287.4" textLength="67.8" lengthAdjust="spacing">statements</tspan> <tspan x="359.8" textLength="25.6" lengthAdjust="spacing">best</tspan> <tspan x="389.8" textLength="58.4" lengthAdjust="spacing">describes</tspan> <tspan x="452.8">your</tspan> <tspan x="483.8" textLength="53.6" lengthAdjust="spacing">thoughts</tspan> <tspan x="541.7">about</tspan> <tspan x="580.5">the</tspan> <tspan x="605.5" textLength="49.8" lengthAdjust="spacing">financial</tspan> <tspan x="659.4" textLength="48.3" lengthAdjust="spacing">aspects</tspan> <tspan x="711.5" textLength="11.1" lengthAdjust="spacing">of</tspan> <tspan x="725.9" textLength="76.0" lengthAdjust="spacing">retirement?’</tspan> <tspan x="805.5" textLength="14.2" lengthAdjust="spacing">by</tspan> <tspan x="823.6" textLength="79.3" lengthAdjust="spacing">self-reported</tspan> <tspan x="906.2" textLength="36.6" lengthAdjust="spacing">labour</tspan> <tspan x="948.8" textLength="29.3" lengthAdjust="spacing">force</tspan> <tspan x="983.5">status.</tspan></text>
</svg></body></html>
